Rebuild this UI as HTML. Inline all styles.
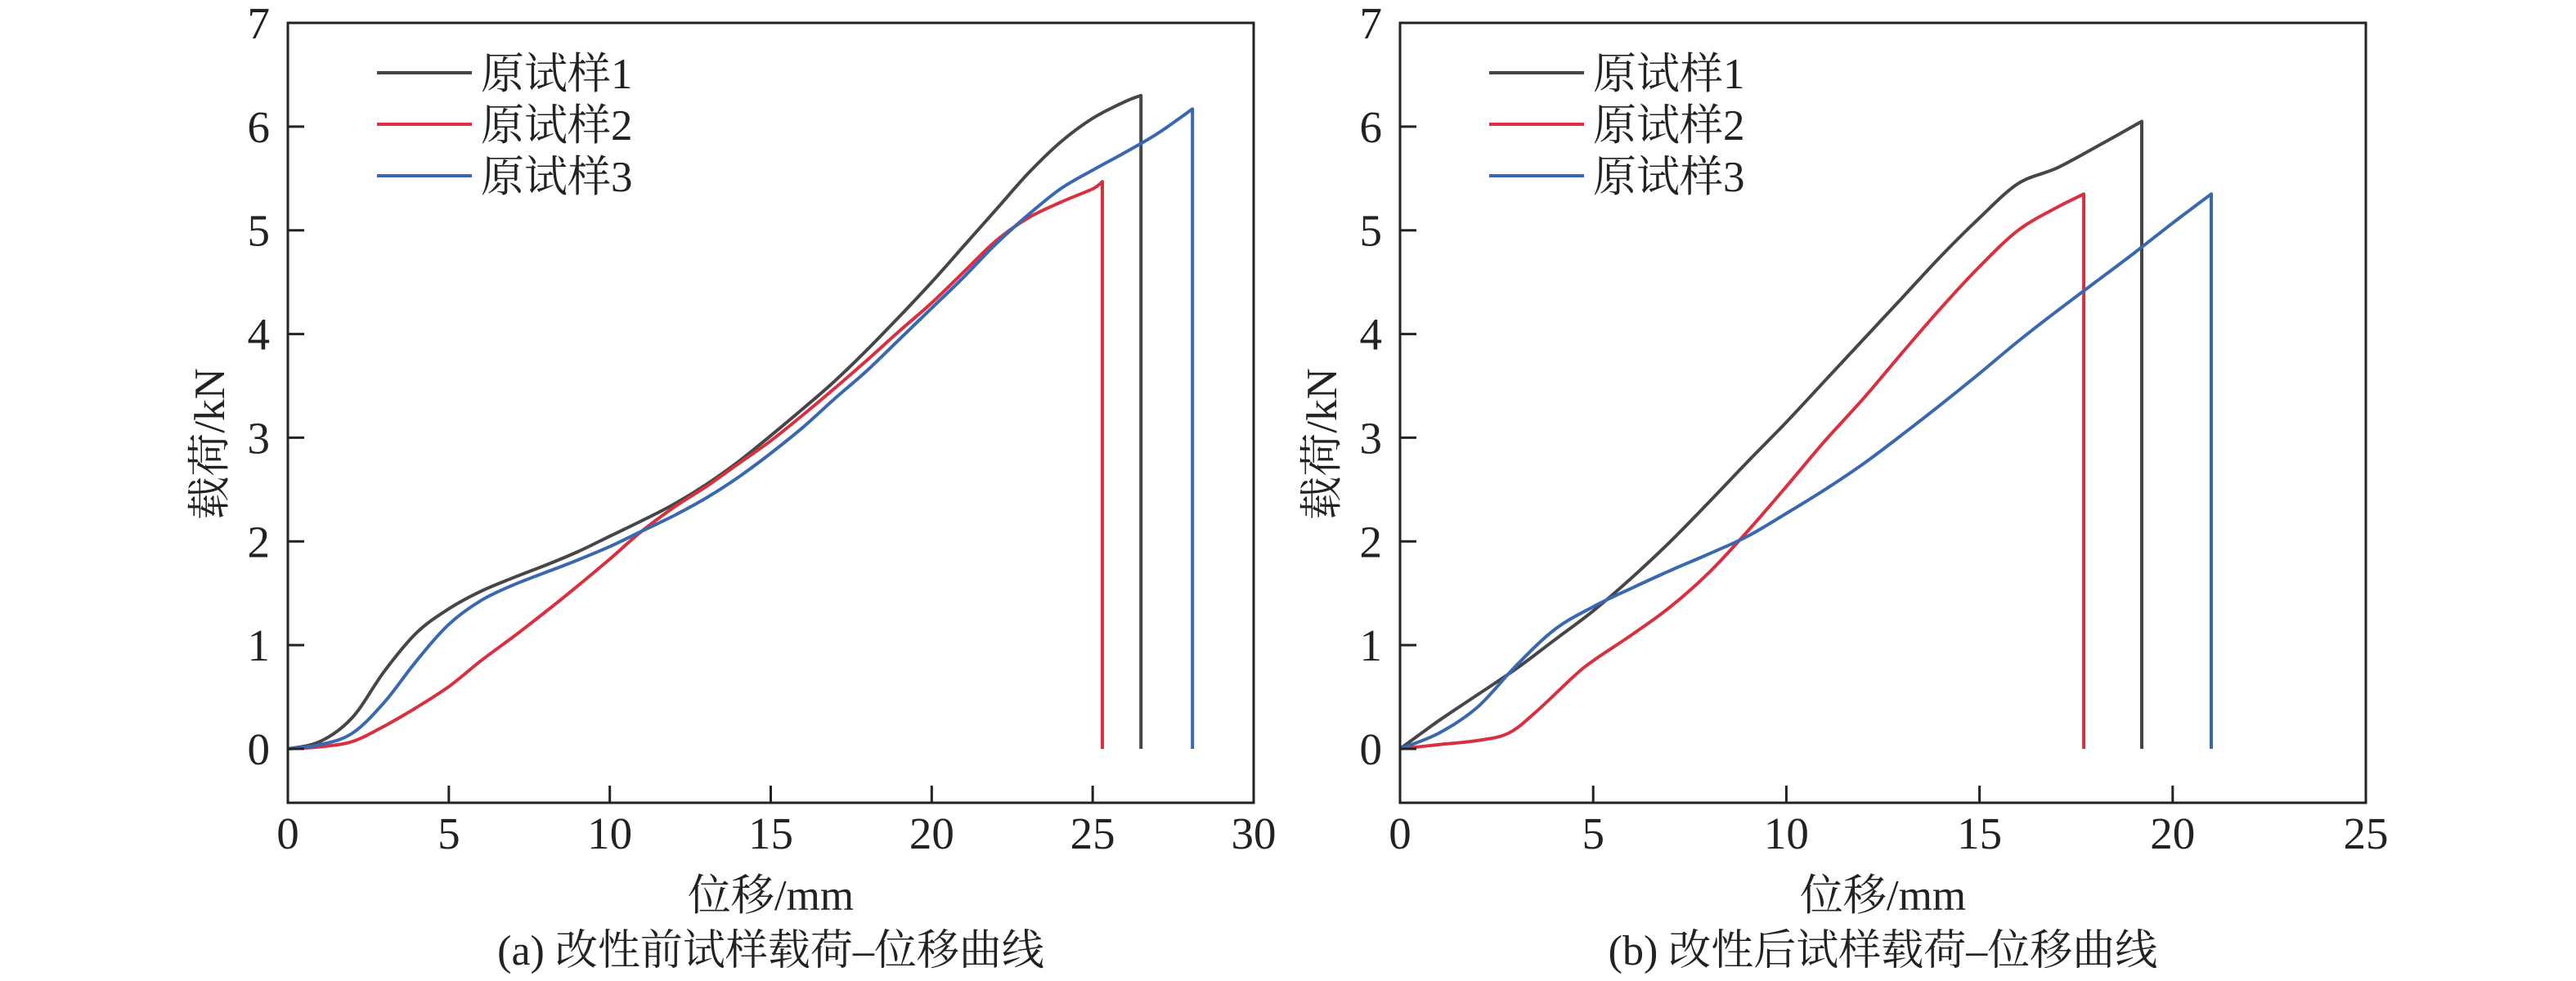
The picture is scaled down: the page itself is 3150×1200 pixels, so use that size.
<!DOCTYPE html>
<html><head><meta charset="utf-8"><style>
html,body{margin:0;padding:0;background:#fff;}
svg{display:block;}
text{font-family:"Liberation Serif","Noto Serif CJK SC",serif;fill:#222;}
</style></head><body>
<svg id="svg" width="3150" height="1200" viewBox="0 0 3150 1200" xmlns="http://www.w3.org/2000/svg"></svg>
<script>
// Chart (a) data
const aX1=[0,1,2,3,4,5,6,7,8,9,10,11,12,13,14,15,16,17,18,19,20,21,22,23,24,25,26,26.5];
const aY1=[0,0.07,0.3,0.75,1.12,1.35,1.52,1.65,1.77,1.9,2.05,2.2,2.36,2.55,2.77,3.02,3.28,3.55,3.85,4.17,4.5,4.85,5.2,5.55,5.85,6.08,6.24,6.3];
const aX2=[0,1,2,3,4,5,6,7,8,9,10,11,12,13,14,15,16,17,18,19,20,21,22,23,24,25,25.3];
const aY2=[0,0.02,0.07,0.22,0.4,0.6,0.85,1.08,1.32,1.57,1.83,2.1,2.33,2.53,2.75,2.97,3.22,3.48,3.75,4.03,4.3,4.6,4.9,5.12,5.27,5.4,5.47];
const aX3=[0,1,2,3,4,5,6,7,8,9,10,11,12,13,14,15,16,17,18,19,20,21,22,23,24,25,26,27,28.1];
const aY3=[0,0.04,0.15,0.45,0.85,1.2,1.43,1.58,1.7,1.82,1.95,2.1,2.25,2.42,2.62,2.85,3.1,3.38,3.65,3.95,4.25,4.55,4.87,5.15,5.4,5.58,5.75,5.93,6.17];
// Chart (b) data
const bX1=[0,1,2,3,4,5,6,7,8,9,10,11,12,13,14,15,16,17,18,19.2];
const bY1=[0,0.27,0.52,0.77,1.05,1.33,1.65,2.0,2.38,2.77,3.15,3.55,3.95,4.35,4.75,5.12,5.45,5.6,5.8,6.05];
const bX2=[0,1,2,2.8,3.5,4.5,5,6,7,8,9,10,11,12,13,14,15,16,17,17.7];
const bY2=[0,0.04,0.08,0.15,0.35,0.7,0.85,1.1,1.37,1.7,2.1,2.53,2.97,3.38,3.82,4.25,4.65,5.0,5.22,5.35];
const bX3=[0,1,2,3,4,5,6,7,8,9,10,11,12,13,14,15,16,17,18,19,20,21];
const bY3=[0,0.15,0.4,0.8,1.15,1.37,1.55,1.72,1.88,2.05,2.27,2.5,2.75,3.03,3.32,3.62,3.93,4.22,4.5,4.78,5.07,5.35];
const aXTicks=[0,5,10,15,20,25,30];
const bXTicks=[0,5,10,15,20,25];
const yTicks=[0,1,2,3,4,5,6,7];
const seriesNames=["原试样1","原试样2","原试样3"];
const colors=["#46464a","#d8303f","#3a68b0"];

const NS="http://www.w3.org/2000/svg";
const svg=document.getElementById('svg');
function el(tag,attrs,parent,txt){const e=document.createElementNS(NS,tag);for(const k in attrs)e.setAttribute(k,attrs[k]);if(txt!==undefined)e.textContent=txt;(parent||svg).appendChild(e);return e;}

function smooth(pts){
  let d='M'+pts[0][0].toFixed(1)+' '+pts[0][1].toFixed(1);
  for(let i=0;i<pts.length-1;i++){
    const p0=pts[Math.max(0,i-1)],p1=pts[i],p2=pts[i+1],p3=pts[Math.min(pts.length-1,i+2)];
    const c1x=p1[0]+(p2[0]-p0[0])/6,c1y=p1[1]+(p2[1]-p0[1])/6;
    const c2x=p2[0]-(p3[0]-p1[0])/6,c2y=p2[1]-(p3[1]-p1[1])/6;
    d+='C'+c1x.toFixed(1)+' '+c1y.toFixed(1)+' '+c2x.toFixed(1)+' '+c2y.toFixed(1)+' '+p2[0].toFixed(1)+' '+p2[1].toFixed(1);
  }
  return d;
}

function chart(id,L,R,xmax,xt,series,caption){
  const T=28,B=982;
  const g=el('g',{});
  
  
  const sx=v=>L+(R-L)*v/xmax;
  const sy=v=>916-(916-T)*v/7;
  series.forEach((s,i)=>{
    const pts=s[0].map((x,k)=>[sx(x),sy(s[1][k])]);
    let d=smooth(pts);
    d+='L'+sx(s[0][s[0].length-1]).toFixed(1)+' '+sy(0).toFixed(1);
    const p=el('path',{d:d,fill:'none',stroke:colors[i],'stroke-width':4,'stroke-linejoin':'round'},g);
    
    
  });
  const fr=el('rect',{x:L,y:T,width:R-L,height:B-T,fill:'none',stroke:'#222','stroke-width':3},g);
  
  
  xt.forEach(v=>{
    const x=sx(v);
    if(v>0&&v<xmax)el('line',{x1:x,y1:B,x2:x,y2:B-21,stroke:'#222','stroke-width':3},g);
    const t=el('text',{x:x,y:1038,'font-size':55,'text-anchor':'middle'},g,String(v));
    
    
  });
  yTicks.forEach(v=>{
    const y=sy(v);
    if(v<7)el('line',{x1:L,y1:y,x2:L+20,y2:y,stroke:'#222','stroke-width':3},g);
    const t=el('text',{x:L-22,y:y+19,'font-size':55,'text-anchor':'end'},g,String(v));
    
    
  });
  const xl=el('text',{x:(L+R)/2,y:1113,'font-size':53,'text-anchor':'middle'},g,'位移/mm');
  
  
  const yl=el('text',{x:0,y:0,'font-size':53,'text-anchor':'middle',transform:'translate('+(L-78)+',543) rotate(-90)'},g,'载荷/kN');
  
  
  const cp=el('text',{x:(L+R)/2,y:1180,'font-size':52,'text-anchor':'middle'},g,caption);
  
  
  seriesNames.forEach((n,i)=>{
    const y=89+i*63;
    const lg=el('g',{},g);
    
    
    el('line',{x1:L+109,y1:y,x2:L+225,y2:y,stroke:colors[i],'stroke-width':4},lg);
    el('text',{x:L+236,y:y+19,'font-size':53},lg,n);
  });
}
chart('a',352,1533,30,aXTicks,[[aX1,aY1],[aX2,aY2],[aX3,aY3]],'(a) 改性前试样载荷–位移曲线');
chart('b',1712,2893,25,bXTicks,[[bX1,bY1],[bX2,bY2],[bX3,bY3]],'(b) 改性后试样载荷–位移曲线');
</script>
</body></html>
